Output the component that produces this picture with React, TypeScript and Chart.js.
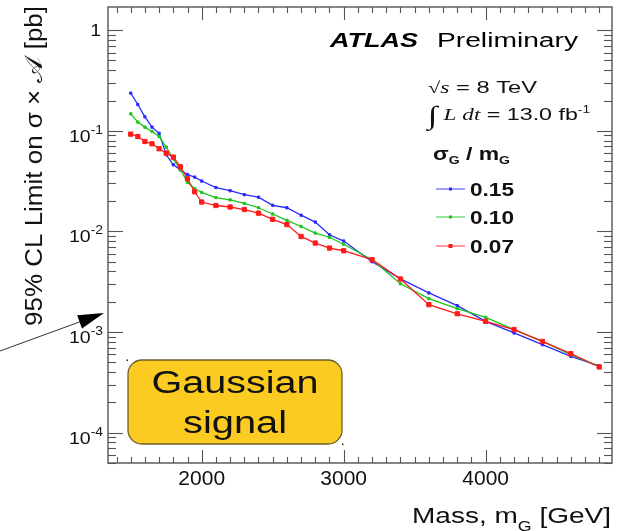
import { useEffect, useRef } from "react";
import { Chart, registerables } from "chart.js";

Chart.register(...registerables);

// Resonance mass points [GeV]
const masses = [
  1500, 1550, 1600, 1650, 1700, 1750, 1800, 1850, 1900, 1950,
  2000, 2100, 2200, 2300, 2400, 2500, 2600, 2700, 2800, 2900, 3000,
  3200, 3400, 3600, 3800, 4000, 4200, 4400, 4600, 4800,
];

// 95% CL limits on sigma x A [pb] for each sigma_G / m_G
const limit015 = [
  0.237, 0.1825, 0.1377, 0.1088, 0.0944, 0.0578, 0.046, 0.041, 0.0368, 0.0347,
  0.0317, 0.0273, 0.0254, 0.0232, 0.0219, 0.0182, 0.0172, 0.0145, 0.0124, 0.00927, 0.00803,
  0.005, 0.00338, 0.00245, 0.00183, 0.00128, 0.00098, 0.00075, 0.000574, 0.000461,
];
const limit010 = [
  0.1475, 0.1221, 0.1088, 0.0984, 0.0878, 0.0689, 0.0527, 0.041, 0.0308, 0.0267,
  0.0244, 0.0217, 0.0206, 0.019, 0.0172, 0.0149, 0.0129, 0.0112, 0.00964, 0.00876, 0.00746,
  0.00524, 0.00302, 0.00215, 0.00171, 0.0014, 0.00106, 0.000808, 0.000597, 0.000456,
];
const limit007 = [
  0.0927, 0.0878, 0.0783, 0.0743, 0.0663, 0.0601, 0.0548, 0.0439, 0.0334, 0.0248,
  0.0196, 0.0181, 0.0175, 0.0165, 0.0152, 0.0132, 0.0117, 0.00892, 0.00767, 0.00684, 0.00643,
  0.00524, 0.00337, 0.00187, 0.00152, 0.00128, 0.00106, 0.000808, 0.00061, 0.00045,
];

const widthLabels = ["0.15", "0.10", "0.07"];
const seriesColors = ["#2a2aff", "#1cc41c", "#ff1a1a"];

// Axis ticks
const xTickValues = [2000, 3000, 4000];
const yTickExponents = [0, -1, -2, -3, -4];

const X_MIN = 1340;
const X_MAX = 4890;
const Y_MIN = 5e-5;
const Y_MAX = 1.7;

const SANS = '"Liberation Sans", Arial, Helvetica, sans-serif';
const SERIF = '"Liberation Serif", "Times New Roman", serif';

type Run = { t: string; font: string; dy?: number };

function drawRuns(
  ctx: CanvasRenderingContext2D,
  runs: Run[],
  x: number,
  y: number,
  opts: { width?: number; sx?: number; align?: "left" | "right" | "center"; color?: string } = {}
) {
  ctx.save();
  let total = 0;
  const ws = runs.map((r) => {
    ctx.font = r.font;
    const w = ctx.measureText(r.t).width;
    total += w;
    return w;
  });
  const sx = opts.width ? opts.width / total : opts.sx ?? 1;
  const W = total * sx;
  const x0 = opts.align === "right" ? x - W : opts.align === "center" ? x - W / 2 : x;
  ctx.fillStyle = opts.color ?? "#000";
  ctx.textBaseline = "alphabetic";
  ctx.textAlign = "left";
  ctx.translate(x0, y);
  ctx.scale(sx, 1);
  let cx = 0;
  runs.forEach((r, i) => {
    ctx.font = r.font;
    ctx.fillText(r.t, cx, r.dy ?? 0);
    cx += ws[i];
  });
  ctx.restore();
}

function line(ctx: CanvasRenderingContext2D, x1: number, y1: number, x2: number, y2: number) {
  ctx.beginPath();
  ctx.moveTo(x1, y1);
  ctx.lineTo(x2, y2);
  ctx.stroke();
}

const decorations = {
  id: "atlasDecorations",
  afterDraw(chart: any) {
    const ctx: CanvasRenderingContext2D = chart.ctx;
    const { left, right, top, bottom } = chart.chartArea;
    const xs = chart.scales.x;
    const ys = chart.scales.y;

    ctx.save();
    // frame
    ctx.strokeStyle = "#555";
    ctx.lineWidth = 1.4;
    ctx.strokeRect(left, top, right - left, bottom - top);

    // x ticks (bottom and top, pointing inwards)
    ctx.lineWidth = 1.1;
    for (let m = 1400; m <= 4800; m += 100) {
      const px = Math.round(xs.getPixelForValue(m)) + 0.5;
      const len = m % 1000 === 0 ? 13 : 6;
      line(ctx, px, bottom, px, bottom - len);
      line(ctx, px, top, px, top + len);
    }
    // y ticks (left and right)
    for (let e = -5; e <= 0; e++) {
      for (let k = 1; k <= 9; k++) {
        const v = k * Math.pow(10, e);
        if (v < Y_MIN || v > Y_MAX) continue;
        const py = Math.round(ys.getPixelForValue(v)) + 0.5;
        const len = k === 1 ? 15 : 8;
        line(ctx, left, py, left + len, py);
        line(ctx, right, py, right - len, py);
      }
    }

    // x tick labels
    xTickValues.forEach((v) => {
      drawRuns(ctx, [{ t: String(v), font: `20px ${SANS}` }], xs.getPixelForValue(v), 485, {
        align: "center",
        sx: 1.05,
        color: "#111",
      });
    });
    // y tick labels
    yTickExponents.forEach((e) => {
      const py = ys.getPixelForValue(Math.pow(10, e));
      if (e === 0) {
        drawRuns(ctx, [{ t: "1", font: `17px ${SANS}` }], 101, py + 6, { align: "right", sx: 1.15, color: "#111" });
      } else {
        drawRuns(
          ctx,
          [
            { t: "10", font: `17px ${SANS}` },
            { t: String(e), font: `12px ${SANS}`, dy: -8 },
          ],
          103,
          py + 11,
          { align: "right", sx: 1.15, color: "#111" }
        );
      }
    });

    // axis titles
    drawRuns(
      ctx,
      [
        { t: "Mass, m", font: `22px ${SANS}` },
        { t: "G", font: `14px ${SANS}`, dy: 8 },
        { t: " [GeV]", font: `22px ${SANS}` },
      ],
      611,
      523,
      { align: "right", width: 199, color: "#111" }
    );
    ctx.save();
    ctx.translate(42, 326);
    ctx.rotate(-Math.PI / 2);
    drawRuns(
      ctx,
      [
        { t: "95% CL Limit on σ × ", font: `23px ${SANS}` },
        { t: "𝒜", font: `24px ${SERIF}` },
        { t: " [pb]", font: `23px ${SANS}` },
      ],
      0,
      0,
      { width: 320, color: "#111" }
    );
    ctx.restore();

    // experiment label
    drawRuns(ctx, [{ t: "ATLAS", font: `italic bold 20px ${SANS}` }], 330, 47, { width: 88 });
    drawRuns(ctx, [{ t: "Preliminary", font: `20px ${SANS}` }], 437, 47, { width: 141 });

    // conditions
    drawRuns(
      ctx,
      [
        { t: "√", font: `16px ${SERIF}` },
        { t: "s", font: `italic 17px ${SERIF}` },
        { t: " = 8 TeV", font: `17px ${SANS}` },
      ],
      428,
      93,
      { width: 109, color: "#111" }
    );
    drawRuns(
      ctx,
      [
        { t: "∫", font: `26px ${SERIF}`, dy: 4 },
        { t: " L dt", font: `italic 17px ${SERIF}` },
        { t: " = 13.0 fb", font: `17px ${SANS}` },
        { t: "-1", font: `10px ${SANS}`, dy: -7 },
      ],
      428,
      120,
      { width: 162, color: "#111" }
    );

    // legend
    drawRuns(
      ctx,
      [
        { t: "σ", font: `bold 18px ${SANS}` },
        { t: "G", font: `bold 11px ${SANS}`, dy: 4 },
        { t: " / m", font: `bold 18px ${SANS}` },
        { t: "G", font: `bold 11px ${SANS}`, dy: 4 },
      ],
      433,
      160,
      { width: 77, color: "#111" }
    );
    const legendY = [189, 217, 246];
    widthLabels.forEach((lab, i) => {
      const ly = legendY[i];
      ctx.strokeStyle = seriesColors[i];
      ctx.globalAlpha = 0.75;
      ctx.lineWidth = 1.2;
      line(ctx, 436, ly, 465, ly);
      ctx.globalAlpha = 1;
      ctx.fillStyle = seriesColors[i];
      const s = i === 2 ? 4 : 3;
      ctx.fillRect(450.5 - s / 2, ly - s / 2, s, s);
      drawRuns(ctx, [{ t: lab, font: `bold 18px ${SANS}` }], 470, ly + 7, { width: 44, color: "#111" });
    });

    // signal-shape label box
    ctx.beginPath();
    ctx.roundRect(128, 360, 214, 84, 14);
    ctx.fillStyle = "#fccb22";
    ctx.fill();
    ctx.strokeStyle = "#6e5d2c";
    ctx.lineWidth = 1.3;
    ctx.stroke();
    ctx.fillStyle = "#222";
    ctx.fillRect(126.5, 359.5, 1.5, 1.5);
    ctx.fillRect(342, 443.5, 1.5, 1.5);
    drawRuns(ctx, [{ t: "Gaussian", font: `31px ${SANS}` }], 235, 393, { align: "center", width: 167, color: "#111" });
    drawRuns(ctx, [{ t: "signal", font: `31px ${SANS}` }], 235, 433, { align: "center", width: 104, color: "#111" });

    // arrow
    const tipX = 104;
    const tipY = 313;
    const ang = Math.atan2(tipY - 351, tipX - 0);
    ctx.strokeStyle = "#333";
    ctx.lineWidth = 1;
    line(ctx, 0, 351, tipX - 20 * Math.cos(ang), tipY - 20 * Math.sin(ang));
    const hl = 26;
    const hw = 7;
    const bx = tipX - hl * Math.cos(ang);
    const by = tipY - hl * Math.sin(ang);
    ctx.beginPath();
    ctx.moveTo(tipX, tipY);
    ctx.lineTo(bx + hw * Math.sin(ang), by - hw * Math.cos(ang));
    ctx.lineTo(bx - hw * Math.sin(ang), by + hw * Math.cos(ang));
    ctx.closePath();
    ctx.fillStyle = "#000";
    ctx.fill();

    ctx.restore();
  },
};

export default function App() {
  const canvasRef = useRef<HTMLCanvasElement | null>(null);

  useEffect(() => {
    if (!canvasRef.current) return;
    const series = [limit015, limit010, limit007];
    const chart = new Chart(canvasRef.current, {
      type: "line",
      data: {
        datasets: series.map((vals, i) => ({
          label: widthLabels[i],
          data: masses.map((m, j) => ({ x: m, y: vals[j] })),
          borderColor: seriesColors[i],
          backgroundColor: seriesColors[i],
          borderWidth: 1.3,
          pointStyle: "rect",
          pointRadius: i === 2 ? 3 : 1.6,
          pointBorderWidth: 1,
          pointBorderColor: seriesColors[i],
          pointBackgroundColor: seriesColors[i],
          tension: 0,
          order: 2 - i,
        })),
      },
      options: {
        responsive: false,
        animation: false,
        devicePixelRatio: 1,
        events: [],
        layout: { padding: { left: 108, right: 26, top: 7, bottom: 68 } },
        plugins: { legend: { display: false }, tooltip: { enabled: false } },
        scales: {
          x: { type: "linear", min: X_MIN, max: X_MAX, display: false },
          y: { type: "logarithmic", min: Y_MIN, max: Y_MAX, display: false },
        },
      },
      plugins: [decorations],
    });
    return () => chart.destroy();
  }, []);

  return (
    <div style={{ position: "absolute", left: 0, top: 0, width: 638, height: 531, background: "#fff" }}>
      <canvas ref={canvasRef} width={638} height={531} style={{ display: "block" }} />
    </div>
  );
}
